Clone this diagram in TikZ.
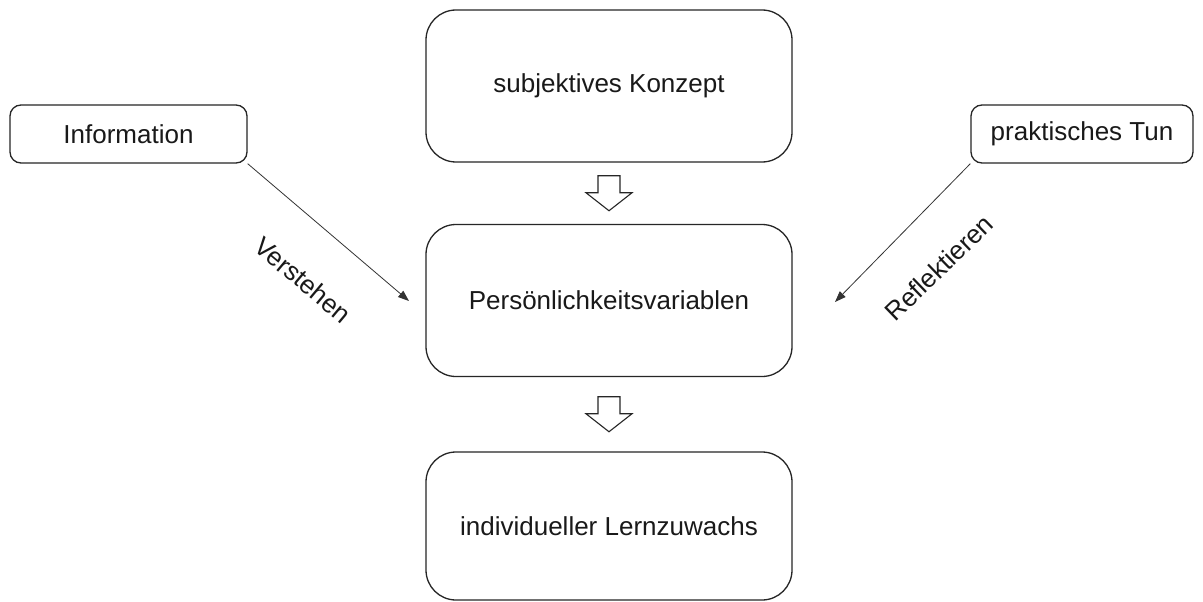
\documentclass[tikz,border=0pt]{standalone}
\usepackage{fontspec}
\setmainfont{Liberation Sans}
\usetikzlibrary{arrows.meta,calc}
\begin{document}
\begin{tikzpicture}[x=1pt,y=-1pt,
  txt/.style={font=\fontsize{26}{30}\selectfont, text=black!90},
  bigbox/.style={txt, draw=black!85, line width=1.3pt, rounded corners=30pt, minimum width=366pt, minimum height=152pt, inner sep=0pt},
  smallbox/.style={txt, draw=black!85, line width=1.3pt, rounded corners=11pt, minimum height=58pt, inner sep=0pt},
  link/.style={draw=black!80, line width=0.8pt, -{Triangle[length=11pt,width=8pt]}},
  lbl/.style={txt, inner sep=0pt},
  pics/blockarrow/.style={code={\draw[black!85, line width=1.1pt, fill=white, line join=miter]
     (-11,-17.5) -- (11,-17.5) -- (11,-0.5) -- (23,-0.5) -- (0,17.5) -- (-23,-0.5) -- (-11,-0.5) -- cycle;}}
]
\useasboundingbox[fill=white] (0,0) rectangle (1203,602);
\node[bigbox] (konzept) at (609,86) {subjektives Konzept};
\node[bigbox] (pers) at (609,300.5) {Persönlichkeitsvariablen};
\node[bigbox, minimum height=148pt] (lern) at (609,526) {individueller Lernzuwachs};
\node[smallbox, minimum width=237pt] (info) at (128.5,134) {Information};
\node[smallbox, minimum width=222pt] (tun) at (1082,134) {praktisches Tun};
\pic at ($(konzept.south)!0.5!(pers.north)$) {blockarrow};
\pic at ($(pers.south)!0.5!(lern.north)$) {blockarrow};
\coordinate (t1) at (409,301);
\coordinate (t2) at (835,302);
\draw[link] (info.south east) -- (t1);
\draw[link] (tun.south west) -- (t2);
\node[lbl, rotate=-40] (verstehen) at (303,280) {Verstehen};
\node[lbl, rotate=44] (reflektieren) at (939,268) {Reflektieren};
\end{tikzpicture}
\end{document}
